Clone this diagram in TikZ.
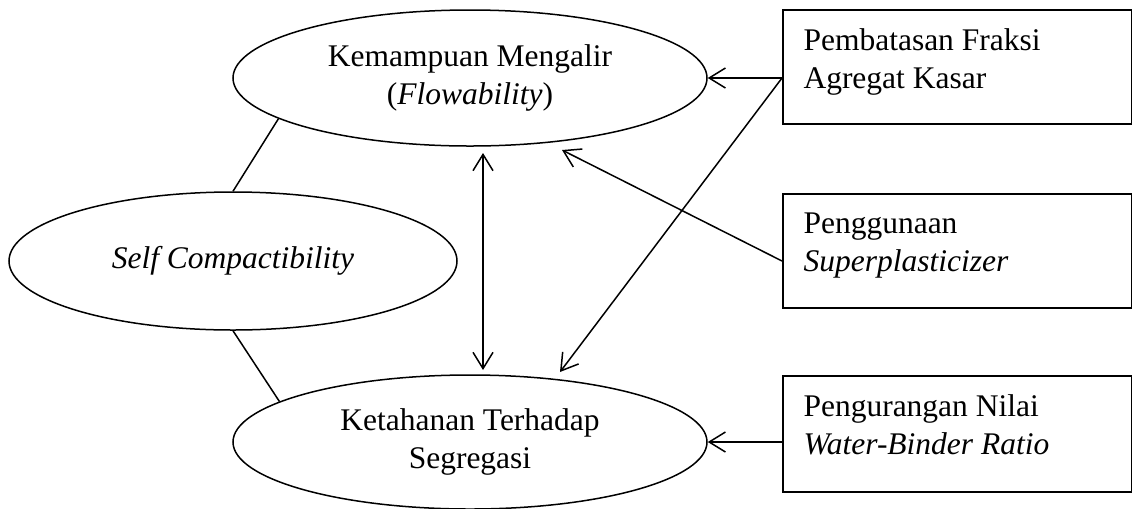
\documentclass[tikz,border=0pt]{standalone}
\usepackage{fontspec}
\setmainfont{Liberation Serif}
\usetikzlibrary{shapes.geometric,arrows.meta}
\begin{document}
\begin{tikzpicture}[x=0.4pt,y=-0.4pt,
  every node/.style={font=\fontsize{12.6}{15.2}\selectfont},
  ell/.style={draw, ellipse, line width=0.6pt, inner sep=0pt, align=center},
  box/.style={draw, rectangle, line width=0.65pt, minimum width=139.6pt, anchor=north west, inner sep=0pt},
  boxtext/.style={anchor=north west, align=left, inner sep=0pt},
  conn/.style={line width=0.6pt},
  tip/.tip={Straight Barb[length=6.5pt,width=8pt]},
  arr/.style={conn, -tip},
]
\useasboundingbox (0,0) rectangle (1132,508);
\fill[white] (0,0) rectangle (1132,508);

\node[ell, minimum width=189.6pt, minimum height=54.4pt] (top) at (470,78) {Kemampuan Mengalir\\(\textit{Flowability})};
\node[ell, minimum width=179.2pt, minimum height=55.2pt] (sc) at (233,261) {\textit{Self Compactibility}};
\node[ell, minimum width=189.6pt, minimum height=53.6pt] (bot) at (470,442) {Ketahanan Terhadap\\Segregasi};

\node[box, minimum height=45.6pt] (b1) at (782,9) {};
\node[box, minimum height=45.6pt] (b2) at (782,193) {};
\node[box, minimum height=46.4pt] (b3) at (782,375) {};

\node[boxtext] (t1txt) at ([xshift=8.4pt,yshift=-7.6pt]b1.north west) {Pembatasan Fraksi\\Agregat Kasar};
\node[boxtext] (t2txt) at ([xshift=8.4pt,yshift=-7.6pt]b2.north west) {Penggunaan\\\textit{Superplasticizer}};
\node[boxtext] (t3txt) at ([xshift=8.4pt,yshift=-7.6pt]b3.north west) {Pengurangan Nilai\\\textit{Water-Binder Ratio}};

\coordinate (e1) at (560,372);
\coordinate (e2) at (562,150);
\coordinate (u1) at (483,153);
\coordinate (u2) at (483,370);

\draw[conn] (top.192) -- (sc.north);
\draw[conn] (sc.south) -- (bot.168);
\draw[arr] (b1.west |- top.east) -- (top.east);
\draw[arr] (b1.west |- top.east) -- (e1);
\draw[arr] (b2.west |- sc.east) -- (e2);
\draw[conn, tip-tip] (u1) -- (u2);
\draw[arr] (b3.west |- bot.east) -- (bot.east);
\end{tikzpicture}
\end{document}
